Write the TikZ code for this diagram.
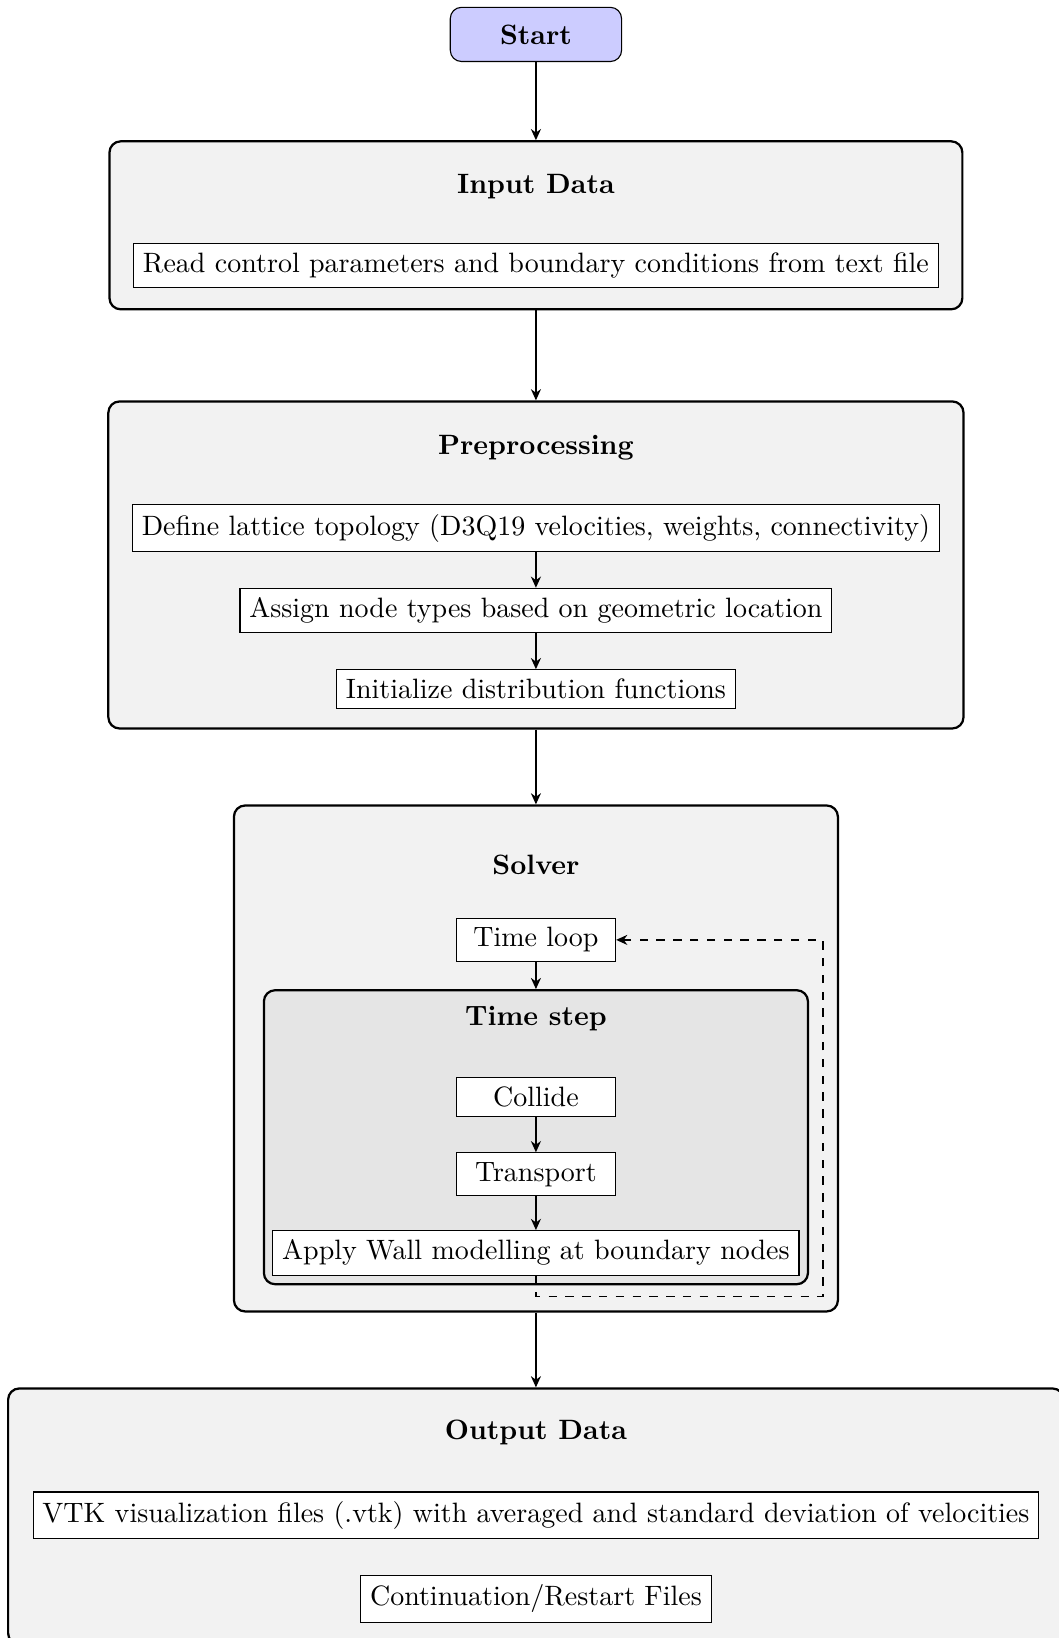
\documentclass[tikz,border=0pt]{standalone}
\usepackage{tikz}
\usetikzlibrary{positioning,arrows.meta}
\tikzset{
  startnode/.style={draw, rounded corners, fill=blue!20, font=\bfseries, minimum width=21.5mm, minimum height=6.8mm},
  stagebox/.style={draw, thick, rounded corners, fill=gray!10},
  substagebox/.style={draw, thick, rounded corners, fill=gray!20},
  stagetitle/.style={font=\bfseries},
  task/.style={draw, fill=white, align=center},
  shorttask/.style={task, minimum width=2cm},
  arrow/.style={-{Stealth[length=4pt, width=3.6pt]}, line width=0.5pt},
  looparrow/.style={arrow, dashed}
}
\begin{document}
\begin{tikzpicture}[node distance=4.5mm]
  \useasboundingbox (0,0) rectangle (378.2pt,-585pt);
  \node[startnode] (start) at (191.4pt,-12.3pt) {Start};

  % input stage
  \node[stagebox, minimum width=304.6pt, minimum height=60pt, below=27.9pt of start] (input) {};
  \node[stagetitle] (inputtitle) at ([yshift=-16.5pt]input.north) {Input Data};
  \node[task] (readparams) at ([yshift=-44.8pt]input.north) {Read control parameters and boundary conditions from text file};

  % preprocessing stage
  \node[stagebox, minimum width=305.4pt, minimum height=116.8pt, below=32.1pt of input] (preproc) {};
  \node[stagetitle] (preproctitle) at ([yshift=-16.8pt]preproc.north) {Preprocessing};
  \node[task] (lattice) at ([yshift=-45.6pt]preproc.north) {Define lattice topology (D3Q19 velocities, weights, connectivity)};
  \node[task, below=of lattice] (nodetypes) {Assign node types based on geometric location};
  \node[task, below=of nodetypes] (initdist) {Initialize distribution functions};

  \draw[arrow] (start) -- (input);
  \draw[arrow] (input) -- (preproc);
  \draw[arrow] (lattice) -- (nodetypes);
  \draw[arrow] (nodetypes) -- (initdist);

  % solver stage
  \node[stagebox, minimum width=215.7pt, minimum height=180.7pt, below=26.7pt of preproc] (solver) {};
  \node[stagetitle] (solvertitle) at ([yshift=-21.7pt]solver.north) {Solver};
  \node[shorttask] (timeloop) at ([yshift=-48.4pt]solver.north) {Time loop};
  \node[substagebox, minimum width=194.3pt, minimum height=105pt, below=9.6pt of timeloop] (timestep) {};
  \node[stagetitle] (timesteptitle) at ([yshift=-10.5pt]timestep.north) {Time step};
  \node[shorttask] (collide) at ([yshift=-38.6pt]timestep.north) {Collide};
  \node[shorttask, below=12.5pt of collide] (transport) {Transport};
  \node[task, below=12pt of transport] (wallmodel) {Apply Wall modelling at boundary nodes};

  \draw[arrow] (preproc) -- (solver);
  \draw[arrow] (timeloop) -- (timestep);
  \draw[arrow] (collide) -- (transport);
  \draw[arrow] (transport) -- (wallmodel);
  \draw[looparrow] (wallmodel.south) -- ++(0,-7.5pt) -| ([xshift=-5.7pt]solver.east) |- (timeloop.east);

  % output stage
  \node[stagebox, minimum width=377pt, minimum height=91.4pt, below=26.7pt of solver] (output) {};
  \node[stagetitle] (outputtitle) at ([yshift=-16.1pt]output.north) {Output Data};
  \node[task] (vtkfiles) at ([yshift=-45.7pt]output.north) {VTK visualization files (.vtk) with averaged and standard deviation of velocities};
  \node[task, below=of vtkfiles] (restart) {Continuation/Restart Files};

  \draw[arrow] (solver) -- (output);
\end{tikzpicture}
\end{document}
